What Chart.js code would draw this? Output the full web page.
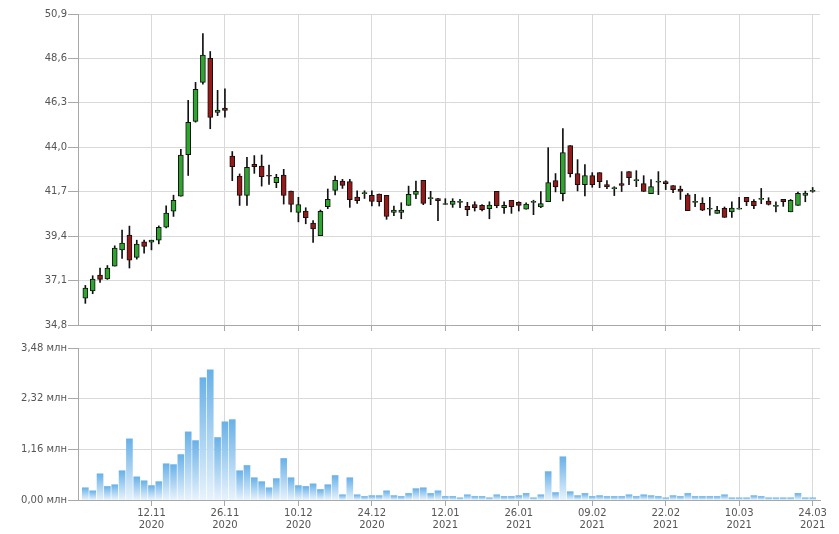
<!DOCTYPE html>
<html>
<head>
<meta charset="utf-8">
<script src="https://cdn.jsdelivr.net/npm/chart.js@4/dist/chart.umd.min.js"></script>
<style>
  body { margin: 0; background: #fff; }
  #wrap { position: relative; width: 839px; height: 534px; }
  #priceChart { position: absolute; left: 0; top: 0; }
  #volChart { position: absolute; left: 0; top: 335px; }
</style>
</head>
<body>
<div id="wrap">
  <canvas id="priceChart" width="839" height="335"></canvas>
  <canvas id="volChart" width="839" height="199"></canvas>
</div>
<script>
// trading days
const dates = [
  '29.10.2020', '30.10.2020', '02.11.2020', '03.11.2020', '05.11.2020', '06.11.2020', '09.11.2020', '10.11.2020', '11.11.2020', '12.11.2020',
  '13.11.2020', '16.11.2020', '17.11.2020', '18.11.2020', '19.11.2020', '20.11.2020', '23.11.2020', '24.11.2020', '25.11.2020', '26.11.2020',
  '27.11.2020', '30.11.2020', '01.12.2020', '02.12.2020', '03.12.2020', '04.12.2020', '07.12.2020', '08.12.2020', '09.12.2020', '10.12.2020',
  '11.12.2020', '14.12.2020', '15.12.2020', '16.12.2020', '17.12.2020', '18.12.2020', '21.12.2020', '22.12.2020', '23.12.2020', '24.12.2020',
  '25.12.2020', '28.12.2020', '29.12.2020', '30.12.2020', '04.01.2021', '05.01.2021', '06.01.2021', '08.01.2021', '11.01.2021', '12.01.2021',
  '13.01.2021', '14.01.2021', '15.01.2021', '18.01.2021', '19.01.2021', '20.01.2021', '21.01.2021', '22.01.2021', '25.01.2021', '26.01.2021',
  '27.01.2021', '28.01.2021', '29.01.2021', '01.02.2021', '02.02.2021', '03.02.2021', '04.02.2021', '05.02.2021', '08.02.2021', '09.02.2021',
  '10.02.2021', '11.02.2021', '12.02.2021', '15.02.2021', '16.02.2021', '17.02.2021', '18.02.2021', '19.02.2021', '20.02.2021', '22.02.2021',
  '24.02.2021', '25.02.2021', '26.02.2021', '01.03.2021', '02.03.2021', '03.03.2021', '04.03.2021', '05.03.2021', '09.03.2021', '10.03.2021',
  '11.03.2021', '12.03.2021', '15.03.2021', '16.03.2021', '17.03.2021', '18.03.2021', '19.03.2021', '22.03.2021', '23.03.2021', '24.03.2021'
];

const opens = [
  36.19, 36.56, 37.38, 37.18, 37.85, 38.69, 39.45, 38.30, 39.11, 39.09,
  39.19, 39.86, 40.69, 41.47, 43.62, 45.34, 47.36, 48.60, 45.81, 46.03,
  43.55, 42.51, 41.51, 43.12, 43.03, 42.51, 42.17, 42.56, 41.73, 40.63,
  40.70, 40.07, 39.43, 40.92, 41.77, 42.25, 42.22, 41.42, 41.60, 41.51,
  41.58, 41.51, 40.63, 40.63, 40.99, 41.56, 42.29, 41.34, 41.34, 41.04,
  41.04, 41.15, 40.94, 41.04, 40.99, 40.82, 41.72, 40.87, 41.25, 41.15,
  40.79, 41.15, 40.91, 41.19, 42.27, 41.60, 44.09, 42.64, 42.07, 42.53,
  42.69, 42.07, 41.86, 42.12, 42.74, 42.27, 42.12, 41.60, 42.19, 42.22,
  42.02, 41.84, 41.54, 41.15, 41.10, 40.79, 40.58, 40.84, 40.66, 40.80,
  41.41, 41.20, 41.30, 41.22, 40.94, 41.30, 40.66, 40.99, 41.51, 41.72
];
const highs = [
  36.85, 37.35, 37.75, 37.88, 38.90, 39.71, 39.92, 39.19, 39.19, 39.19,
  39.93, 40.97, 41.52, 43.90, 46.43, 47.36, 49.89, 48.96, 46.95, 47.02,
  43.78, 42.62, 43.48, 43.57, 43.60, 43.08, 42.60, 42.86, 41.73, 41.41,
  40.87, 40.21, 40.75, 41.84, 42.51, 42.34, 42.34, 41.75, 41.75, 41.75,
  41.58, 41.51, 40.96, 41.13, 41.99, 42.25, 42.29, 41.72, 41.36, 41.34,
  41.34, 41.30, 41.15, 41.18, 41.04, 41.18, 41.72, 41.18, 41.25, 41.18,
  41.13, 41.26, 41.71, 43.98, 42.64, 44.97, 44.09, 43.36, 43.10, 42.69,
  42.69, 42.27, 41.96, 42.74, 42.74, 42.79, 42.53, 42.33, 42.74, 42.27,
  42.02, 41.99, 41.61, 41.56, 41.39, 41.41, 40.94, 40.91, 41.18, 41.41,
  41.41, 41.29, 41.87, 41.39, 41.18, 41.30, 41.30, 41.68, 41.73, 41.92
];
const lows = [
  35.92, 36.42, 37.00, 37.16, 37.85, 38.25, 37.75, 38.21, 38.52, 38.69,
  39.00, 39.82, 40.42, 41.47, 42.54, 45.30, 47.27, 44.96, 45.64, 45.56,
  42.27, 40.99, 40.99, 42.65, 41.99, 42.08, 41.91, 41.06, 40.66, 40.14,
  40.04, 39.07, 39.43, 40.82, 41.53, 41.87, 40.89, 41.09, 41.35, 40.97,
  40.96, 40.27, 40.46, 40.30, 40.99, 41.34, 41.03, 41.03, 40.20, 41.04,
  40.89, 40.87, 40.46, 40.70, 40.70, 40.30, 40.87, 40.58, 40.58, 40.70,
  40.79, 40.51, 40.88, 41.19, 41.69, 41.22, 42.46, 41.74, 41.48, 41.93,
  41.91, 41.86, 41.50, 41.71, 42.07, 41.96, 41.71, 41.60, 41.55, 41.81,
  41.65, 41.30, 40.72, 40.92, 40.72, 40.48, 40.58, 40.37, 40.37, 40.80,
  40.98, 40.82, 41.08, 41.01, 40.66, 40.94, 40.66, 40.99, 41.18, 41.67
];
const closes = [
  36.71, 37.18, 37.16, 37.75, 38.78, 39.04, 38.16, 38.99, 38.87, 39.19,
  39.86, 40.59, 41.26, 43.60, 45.29, 47.00, 48.77, 45.55, 45.93, 45.91,
  43.00, 41.51, 42.96, 43.00, 42.48, 42.50, 42.44, 41.51, 41.04, 41.04,
  40.35, 39.78, 40.68, 41.30, 42.29, 42.03, 41.29, 41.23, 41.60, 41.20,
  41.18, 40.42, 40.75, 40.75, 41.56, 41.72, 41.10, 41.34, 41.23, 41.04,
  41.22, 41.15, 40.77, 40.87, 40.77, 41.01, 40.98, 40.99, 40.92, 40.99,
  41.06, 41.15, 41.08, 42.17, 41.95, 43.72, 42.64, 42.07, 42.53, 42.07,
  42.22, 41.95, 41.86, 42.02, 42.43, 42.27, 41.71, 41.96, 42.19, 42.12,
  41.81, 41.72, 40.72, 41.15, 40.75, 40.79, 40.73, 40.37, 40.85, 40.80,
  41.18, 40.98, 41.30, 41.04, 40.94, 41.18, 41.25, 41.61, 41.63, 41.72
];
// volume, млн
const volumes = [
  0.28, 0.21, 0.60, 0.31, 0.35, 0.67, 1.40, 0.53, 0.44, 0.33,
  0.42, 0.83, 0.81, 1.04, 1.56, 1.36, 2.80, 2.98, 1.43, 1.79,
  1.84, 0.67, 0.79, 0.51, 0.42, 0.28, 0.49, 0.95, 0.51, 0.33,
  0.31, 0.37, 0.24, 0.35, 0.56, 0.12, 0.51, 0.12, 0.08, 0.10,
  0.10, 0.21, 0.10, 0.08, 0.15, 0.26, 0.28, 0.15, 0.21, 0.08,
  0.08, 0.05, 0.12, 0.08, 0.08, 0.05, 0.12, 0.08, 0.08, 0.10,
  0.15, 0.05, 0.12, 0.65, 0.17, 0.99, 0.19, 0.10, 0.15, 0.08,
  0.10, 0.08, 0.08, 0.08, 0.12, 0.08, 0.12, 0.10, 0.08, 0.05,
  0.10, 0.08, 0.15, 0.08, 0.08, 0.08, 0.08, 0.12, 0.05, 0.05,
  0.05, 0.10, 0.08, 0.05, 0.05, 0.05, 0.05, 0.15, 0.05, 0.05
];

const tickDates = ['12.11.2020', '26.11.2020', '10.12.2020', '24.12.2020', '12.01.2021',
                   '26.01.2021', '09.02.2021', '22.02.2021', '10.03.2021', '24.03.2021'];
const priceTicks = [34.8, 37.1, 39.4, 41.7, 44.0, 46.3, 48.6, 50.9];
const volTicks = [0, 1.16, 2.32, 3.48];

const UP = '#2ea52e';
const DOWN = '#951b1b';
const GRID = '#d9d9d9';
const AXIS = '#a8a8a8';
const TEXT = '#555';
const FONT = { family: 'DejaVu Sans', size: 10 };

function xAxis(showLabels, height) {
  return {
    type: 'linear',
    min: -1,
    max: dates.length,
    offset: false,
    afterBuildTicks: s => { s.ticks = tickDates.map(d => ({ value: dates.indexOf(d) })); },
    afterFit: s => { s.height = height; },
    grid: { color: GRID, tickColor: AXIS, tickLength: 6, offset: false },
    border: { color: AXIS },
    ticks: {
      display: showLabels,
      maxRotation: 0,
      autoSkip: false,
      padding: 1,
      color: TEXT,
      font: FONT,
      callback: v => {
        const d = dates[v];
        return d ? [d.slice(0, 5), d.slice(6)] : '';
      }
    }
  };
}

function yAxis(min, max, ticks, fmt) {
  return {
    min: min,
    max: max,
    afterBuildTicks: s => { s.ticks = ticks.map(v => ({ value: v })); },
    afterFit: s => { s.width = 78; },
    grid: { color: GRID, tickColor: AXIS, tickLength: 10 },
    border: { color: AXIS },
    ticks: { color: TEXT, font: FONT, padding: 1, callback: fmt }
  };
}

const bodies = dates.map((d, i) => ({ x: i, y: [opens[i], closes[i]] }));
const wicks = dates.map((d, i) => ({ x: i, y: [lows[i], highs[i]] }));

new Chart(document.getElementById('priceChart'), {
  type: 'bar',
  data: {
    datasets: [
      {
        data: bodies,
        grouped: false,
        barThickness: 5,
        minBarLength: 1,
        borderWidth: 1,
        borderSkipped: false,
        borderColor: '#111',
        backgroundColor: dates.map((d, i) => closes[i] >= opens[i] ? UP : DOWN)
      },
      {
        data: wicks,
        grouped: false,
        barThickness: 1,
        backgroundColor: '#111'
      }
    ]
  },
  options: {
    responsive: false,
    animation: false,
    layout: { padding: { top: 14, right: 19, left: 0, bottom: 0 } },
    plugins: { legend: { display: false }, tooltip: { enabled: false } },
    scales: {
      x: xAxis(false, 10),
      y: yAxis(34.8, 50.9, priceTicks, v => v.toFixed(1).replace('.', ','))
    }
  }
});

new Chart(document.getElementById('volChart'), {
  type: 'bar',
  data: {
    datasets: [{
      data: dates.map((d, i) => ({ x: i, y: volumes[i] })),
      barThickness: 6,
      borderWidth: 0,
      backgroundColor: ctx => {
        const chart = ctx.chart;
        if (!chart.chartArea || ctx.raw == null) return '#8cc3ec';
        const ys = chart.scales.y;
        const top = ys.getPixelForValue(ctx.raw.y);
        const base = ys.getPixelForValue(0);
        if (base - top < 1) return '#b8dbf4';
        const g = chart.ctx.createLinearGradient(0, top, 0, base);
        g.addColorStop(0, '#69b1e8');
        g.addColorStop(1, '#e8f3fc');
        return g;
      }
    }]
  },
  options: {
    responsive: false,
    animation: false,
    layout: { padding: { top: 13, right: 19, left: 0, bottom: 0 } },
    plugins: { legend: { display: false }, tooltip: { enabled: false } },
    scales: {
      x: xAxis(true, 34),
      y: yAxis(0, 3.48, volTicks, v => v.toFixed(2).replace('.', ',') + ' млн')
    }
  }
});
</script>
</body>
</html>
